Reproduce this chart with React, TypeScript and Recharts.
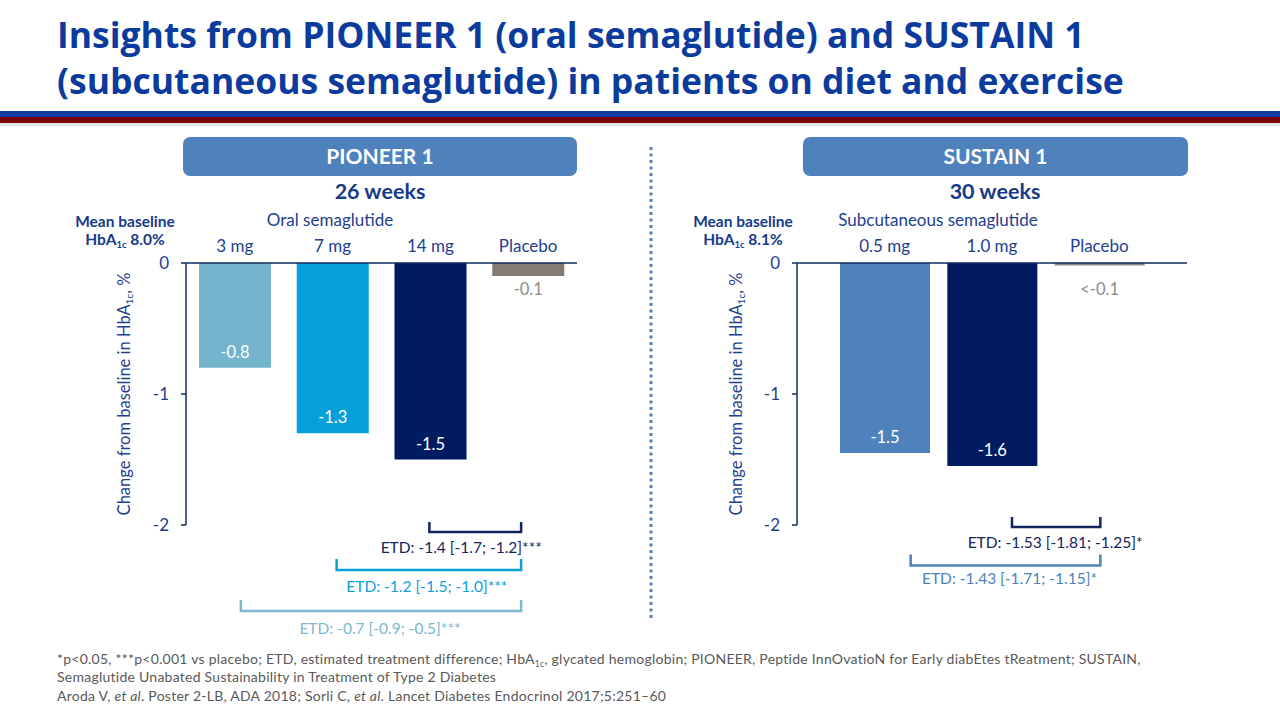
import React from 'react';
import { BarChart, Bar, XAxis, YAxis, Cell, LabelList, ReferenceLine } from 'recharts';

// ---------- data ----------
const pioneerCategories = ['3 mg', '7 mg', '14 mg', 'Placebo'];
const pioneerValues = [-0.8, -1.3, -1.5, -0.1];
const pioneerValueLabels = ['-0.8', '-1.3', '-1.5', '-0.1'];

const sustainCategories = ['0.5 mg', '1.0 mg', 'Placebo'];
const sustainValues = [-1.45, -1.55, -0.02];
const sustainValueLabels = ['-1.5', '-1.6', '<-0.1'];

const yTicks = [0, -1, -2];

const pioneerEtdFrom = ['14 mg', '7 mg', '3 mg'];
const pioneerEtdTo = ['Placebo', 'Placebo', 'Placebo'];
const pioneerEtdText = ['ETD: -1.4 [-1.7; -1.2]***', 'ETD: -1.2 [-1.5; -1.0]***', 'ETD: -0.7 [-0.9; -0.5]***'];

const sustainEtdFrom = ['1.0 mg', '0.5 mg'];
const sustainEtdTo = ['Placebo', 'Placebo'];
const sustainEtdText = ['ETD: -1.53 [-1.81; -1.25]*', 'ETD: -1.43 [-1.71; -1.15]*'];

// ---------- styles ----------
const TITLE_BLUE = '#0B3C9D';
const TEXT_BLUE = '#23408E';
const DARK_TEXT = '#173A8A';
const AXIS = '#102A5E';
const BODY_FONT = 'Lato, "Open Sans", sans-serif';

const pioneerColors = ['#74B4CD', '#069FD9', '#001B60', '#857B74'];
const sustainColors = ['#4F81BD', '#001B60', '#8C8C8C'];

const pioneerEtdStyle = [
  { level: -2.053, color: '#14245E', insetL: -1, insetR: 7, tick: 10, textDx: -14, textDy: 15 },
  { level: -2.344, color: '#0AA0D8', insetL: 4, insetR: 7, tick: 11, textDx: -2, textDy: 16 },
  { level: -2.656, color: '#7DB8CF', insetL: 6, insetR: 7, tick: 11, textDx: -1, textDy: 17 },
];
const sustainEtdStyle = [
  { level: -2.015, color: '#14245E', insetL: 20, insetR: -1, tick: 10, textDx: -1, textDy: 15 },
  { level: -2.31, color: '#4F81BD', insetL: 26, insetR: -1, tick: 11, textDx: 4, textDy: 12 },
];

const pioneerData = pioneerCategories.map((name, i) => ({
  name,
  value: pioneerValues[i],
  label: pioneerValueLabels[i],
}));
const sustainData = sustainCategories.map((name, i) => ({
  name,
  value: sustainValues[i],
  label: sustainValueLabels[i],
}));

const renderValueLabel = (outsideColor: string) => (props: any) => {
  const vb = props.viewBox && props.viewBox.width !== undefined ? props.viewBox : props;
  const x = Number(vb.x);
  const y = Number(vb.y);
  const width = Number(vb.width);
  const height = Number(vb.height);
  const top = Math.min(y, y + height);
  const bottom = Math.max(y, y + height);
  const inside = bottom - top > 40;
  const cx = x + width / 2;
  const cy = inside ? bottom - 16 : top + 26;
  return (
    <text
      x={cx}
      y={cy}
      textAnchor="middle"
      dominantBaseline="central"
      fill={inside ? '#FFFFFF' : outsideColor}
      fontSize={16.5}
      fontFamily={BODY_FONT}
    >
      {props.value}
    </text>
  );
};

const makeBracketShape = (st: any, text: string) => (props: any) => {
  const x1 = Number(props.x1);
  const x2 = Number(props.x2);
  const y = Number(props.y1);
  const xa = Math.min(x1, x2) + st.insetL;
  const xb = Math.max(x1, x2) - st.insetR;
  return (
    <g>
      <path
        d={`M${xa},${y - st.tick} V${y} H${xb} V${y - st.tick}`}
        fill="none"
        stroke={st.color}
        strokeWidth={2.5}
      />
      <text
        x={(xa + xb) / 2 + st.textDx}
        y={y + st.textDy}
        textAnchor="middle"
        dominantBaseline="central"
        fontSize={15.5}
        fill={st.color}
        fontFamily={BODY_FONT}
      >
        {text}
      </text>
    </g>
  );
};

const tickStyle = { fontSize: 17, fill: TEXT_BLUE, fontFamily: BODY_FONT };

interface PanelProps {
  data: any[];
  colors: string[];
  left: number;
  margin: any;
  barSize: number;
  padding: any;
  etdFrom: string[];
  etdTo: string[];
  etdText: string[];
  etdStyle: any[];
  outsideLabelColor: string;
}

const Panel = (p: PanelProps) => (
  <div style={{ position: 'absolute', left: p.left, top: 200, width: 640, height: 450 }}>
    <BarChart width={640} height={450} data={p.data} margin={p.margin}>
      <XAxis
        dataKey="name"
        orientation="top"
        height={30}
        interval={0}
        tickLine={false}
        tickSize={0}
        tickMargin={11}
        padding={p.padding}
        axisLine={{ stroke: AXIS, strokeWidth: 1.5 }}
        tick={tickStyle}
      />
      <YAxis
        type="number"
        domain={[-2, 0]}
        ticks={yTicks}
        interval={0}
        width={70}
        tickSize={5}
        tickMargin={12}
        tickLine={{ stroke: AXIS, strokeWidth: 1.5 }}
        axisLine={{ stroke: AXIS, strokeWidth: 1.5 }}
        tick={tickStyle}
      />
      <Bar dataKey="value" barSize={p.barSize} isAnimationActive={false}>
        {p.data.map((d, i) => (
          <Cell key={d.name} fill={p.colors[i]} />
        ))}
        <LabelList dataKey="label" content={renderValueLabel(p.outsideLabelColor)} />
      </Bar>
      {p.etdText.map((t, i) => (
        <ReferenceLine
          key={t}
          ifOverflow="visible"
          position="middle"
          segment={[
            { x: p.etdFrom[i], y: p.etdStyle[i].level },
            { x: p.etdTo[i], y: p.etdStyle[i].level },
          ]}
          stroke={p.etdStyle[i].color}
          shape={makeBracketShape(p.etdStyle[i], t)}
        />
      ))}
    </BarChart>
  </div>
);

const TITLE_FONT = '"Open Sans", sans-serif';
const NOTE_FONT = 'Lato, sans-serif';

const PageDecor = () => (
  <svg width={1280} height={720} style={{ position: 'absolute', left: 0, top: 0 }}>
    <rect x={0} y={0} width={1280} height={720} fill="#FFFFFF" />
    {/* title */}
    <text x={57} y={48} fontFamily={TITLE_FONT} fontWeight={700} fontSize={35.5} fill={TITLE_BLUE}>
      Insights from PIONEER 1 (oral semaglutide) and SUSTAIN 1
    </text>
    <text x={57} y={94} fontFamily={TITLE_FONT} fontWeight={700} fontSize={35.5} fill={TITLE_BLUE}>
      (subcutaneous semaglutide) in patients on diet and exercise
    </text>
    {/* stripes */}
    <rect x={0} y={111} width={1280} height={6} fill="#0D3FA0" />
    <rect x={0} y={117} width={1280} height={6} fill="#7D0000" />
    <rect x={0} y={123} width={1280} height={3} fill="#E4E4E4" />

    {/* headers */}
    <rect x={183} y={137} width={394} height={39} rx={7} fill="#4F81BD" />
    <text x={380} y={164} textAnchor="middle" fontFamily={BODY_FONT} fontWeight={700} fontSize={21} fill="#FFFFFF">
      PIONEER 1
    </text>
    <rect x={803} y={137} width={385} height={39} rx={7} fill="#4F81BD" />
    <text x={995.5} y={164} textAnchor="middle" fontFamily={BODY_FONT} fontWeight={700} fontSize={21} fill="#FFFFFF">
      SUSTAIN 1
    </text>

    <text x={380} y={199} textAnchor="middle" fontFamily={BODY_FONT} fontWeight={700} fontSize={21.5} fill={DARK_TEXT}>
      26 weeks
    </text>
    <text x={995} y={199} textAnchor="middle" fontFamily={BODY_FONT} fontWeight={700} fontSize={21.5} fill={DARK_TEXT}>
      30 weeks
    </text>

    {/* mean baseline */}
    <text x={125} y={227} textAnchor="middle" fontFamily={BODY_FONT} fontWeight={700} fontSize={15.5} fill={DARK_TEXT}>
      Mean baseline
    </text>
    <text x={125} y={245} textAnchor="middle" fontFamily={BODY_FONT} fontWeight={700} fontSize={15.5} fill={DARK_TEXT}>
      <tspan>HbA</tspan>
      <tspan fontSize={9.5} dy={3}>1c</tspan>
      <tspan dy={-3}> 8.0%</tspan>
    </text>
    <text x={743} y={227} textAnchor="middle" fontFamily={BODY_FONT} fontWeight={700} fontSize={15.5} fill={DARK_TEXT}>
      Mean baseline
    </text>
    <text x={743} y={245} textAnchor="middle" fontFamily={BODY_FONT} fontWeight={700} fontSize={15.5} fill={DARK_TEXT}>
      <tspan>HbA</tspan>
      <tspan fontSize={9.5} dy={3}>1c</tspan>
      <tspan dy={-3}> 8.1%</tspan>
    </text>

    <text x={330} y={226} textAnchor="middle" fontFamily={BODY_FONT} fontSize={17} fill={TEXT_BLUE}>
      Oral semaglutide
    </text>
    <text x={938} y={226} textAnchor="middle" fontFamily={BODY_FONT} fontSize={17} fill={TEXT_BLUE}>
      Subcutaneous semaglutide
    </text>

    {/* y axis titles */}
    <text transform="translate(130,394) rotate(-90)" textAnchor="middle" fontFamily={BODY_FONT} fontSize={16.5} fill={TEXT_BLUE}>
      <tspan>Change from baseline in HbA</tspan>
      <tspan fontSize={10} dy={3}>1c</tspan>
      <tspan dy={-3}>, %</tspan>
    </text>
    <text transform="translate(742,394) rotate(-90)" textAnchor="middle" fontFamily={BODY_FONT} fontSize={16.5} fill={TEXT_BLUE}>
      <tspan>Change from baseline in HbA</tspan>
      <tspan fontSize={10} dy={3}>1c</tspan>
      <tspan dy={-3}>, %</tspan>
    </text>

    {/* divider */}
    <line x1={651} y1={147} x2={651} y2={620} stroke="#5B80B8" strokeWidth={3} strokeDasharray="3 3.5" />

    {/* footnotes */}
    <g fontFamily={NOTE_FONT} fontSize={14} letterSpacing={0.25} fill="#595959">
      <text x={57} y={664}>
        <tspan>*p&lt;0.05, ***p&lt;0.001 vs placebo; ETD, estimated treatment difference; HbA</tspan>
        <tspan fontSize={8.5} dy={3}>1c</tspan>
        <tspan dy={-3}>, glycated hemoglobin; PIONEER, Peptide InnOvatioN for Early diabEtes tReatment; SUSTAIN,</tspan>
      </text>
      <text x={57} y={682}>Semaglutide Unabated Sustainability in Treatment of Type 2 Diabetes</text>
      <text x={57} y={701}>
        <tspan>Aroda V, </tspan>
        <tspan fontStyle="italic">et al</tspan>
        <tspan>. Poster 2-LB, ADA 2018; Sorli C, </tspan>
        <tspan fontStyle="italic">et al</tspan>
        <tspan>. Lancet Diabetes Endocrinol 2017;5:251–60</tspan>
      </text>
    </g>
  </svg>
);

export default function App() {
  return (
    <div style={{ position: 'absolute', left: 0, top: 0, width: 1280, height: 720, background: '#fff', overflow: 'hidden' }}>
      <PageDecor />
      <Panel
        data={pioneerData}
        colors={pioneerColors}
        left={0}
        margin={{ top: 33, right: 63, bottom: 125, left: 116 }}
        barSize={72}
        padding={{ left: 0, right: 0 }}
        etdFrom={pioneerEtdFrom}
        etdTo={pioneerEtdTo}
        etdText={pioneerEtdText}
        etdStyle={pioneerEtdStyle}
        outsideLabelColor="#8C8C8C"
      />
      <Panel
        data={sustainData}
        colors={sustainColors}
        left={640}
        margin={{ top: 33, right: 93, bottom: 125, left: 87 }}
        barSize={90}
        padding={{ left: 34, right: 34 }}
        etdFrom={sustainEtdFrom}
        etdTo={sustainEtdTo}
        etdText={sustainEtdText}
        etdStyle={sustainEtdStyle}
        outsideLabelColor="#8C8C8C"
      />
    </div>
  );
}
